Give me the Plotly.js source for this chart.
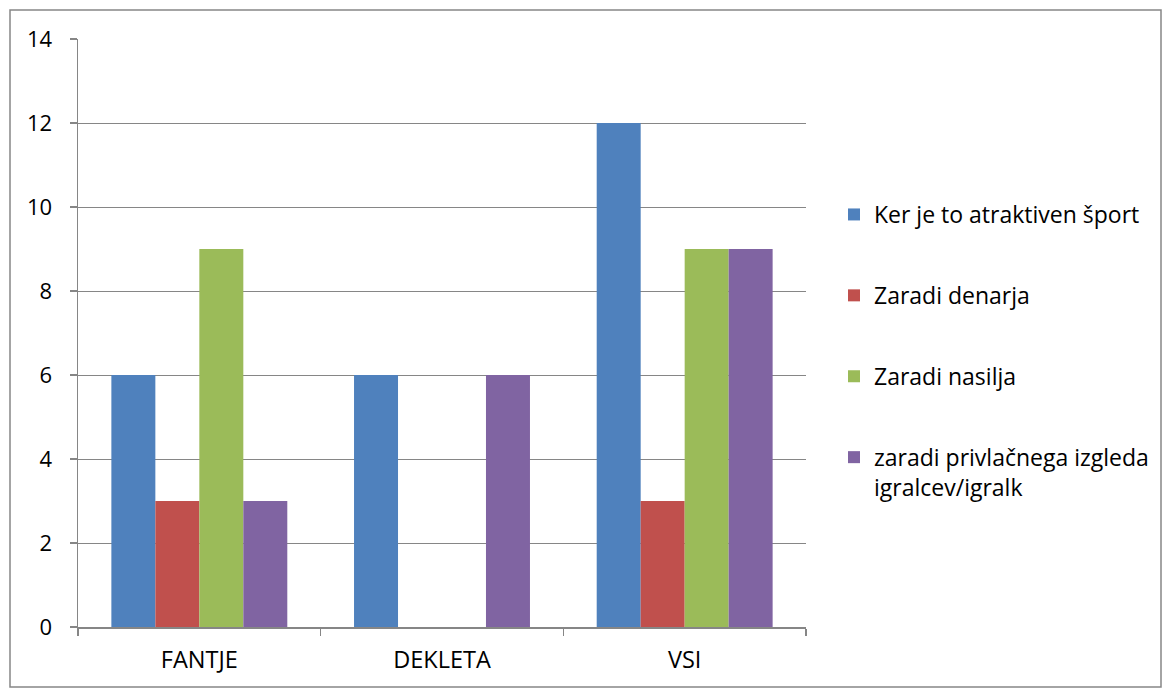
<!DOCTYPE html>
<html>
<head>
<meta charset="utf-8">
<script src="https://cdn.plot.ly/plotly-3.0.1.min.js"></script>
<style>html,body{margin:0;padding:0;background:#fff;}#chart{width:1162px;height:688px;}</style>
</head>
<body>
<div id="chart"></div>
<script>
const categories = ["FANTJE", "DEKLETA", "VSI"];
const seriesNames = ["Ker je to atraktiven šport", "Zaradi denarja", "Zaradi nasilja", "zaradi privlačnega izgleda<br>igralcev/igralk"];
const atraktiven = [6, 6, 12];
const denar = [3, 0, 3];
const nasilje = [9, 0, 9];
const izgled = [3, 6, 9];
const colors = ["#4F81BD", "#C0504D", "#9BBB59", "#8064A2"];
const values = [atraktiven, denar, nasilje, izgled];

const font = "'Open Sans', 'Noto Sans', sans-serif";
const traces = values.map((v, i) => ({
  type: "bar", x: categories, y: v, name: seriesNames[i],
  marker: {color: colors[i]}, legendgroup: "g" + i, hoverinfo: "y"
}));

const L = 78, R = 806, T = 39, B = 627, W = 1162, H = 688;
const pw = R - L, ph = B - T;
const layout = {
  width: W, height: H,
  margin: {l: L, r: W - R, t: T, b: H - B, pad: 0, autoexpand: false},
  paper_bgcolor: "#fff", plot_bgcolor: "#fff",
  font: {family: font, size: 22, color: "#000"},
  barmode: "group", bargap: 0.275, bargroupgap: 0,
  showlegend: true,
  legend: {x: (834 - L) / pw, y: (B - 193) / ph, xanchor: "left", yanchor: "top",
    font: {family: font, size: 23, color: "#000"}, tracegroupgap: 48, valign: "top",
    traceorder: "grouped", itemwidth: 30, bgcolor: "rgba(0,0,0,0)"},
  xaxis: {showline: true, linecolor: "#868686", linewidth: 1.5, ticks: "outside",
    tickson: "boundaries", ticklen: 7, tickcolor: "#868686", tickwidth: 1.5,
    showgrid: false, zeroline: false, tickfont: {size: 23.5}, ticklabelstandoff: 11},
  yaxis: {range: [0, 14], dtick: 2, showline: true, linecolor: "#868686", linewidth: 1.5,
    ticks: "outside", ticklen: 7, tickcolor: "#868686", tickwidth: 1.5,
    showgrid: true, gridcolor: "#868686", gridwidth: 1, zeroline: false,
    tickfont: {size: 22}, ticklabelstandoff: 13},
  shapes: [{type: "rect", xref: "paper", yref: "paper",
    x0: (10 - L) / pw, x1: (1161 - L) / pw, y0: (B - 687) / ph, y1: (B - 10) / ph,
    line: {color: "#868686", width: 1.5}, fillcolor: "rgba(0,0,0,0)", layer: "below"}]
};
Plotly.newPlot("chart", traces, layout, {displayModeBar: false, staticPlot: true});
</script>
</body>
</html>
